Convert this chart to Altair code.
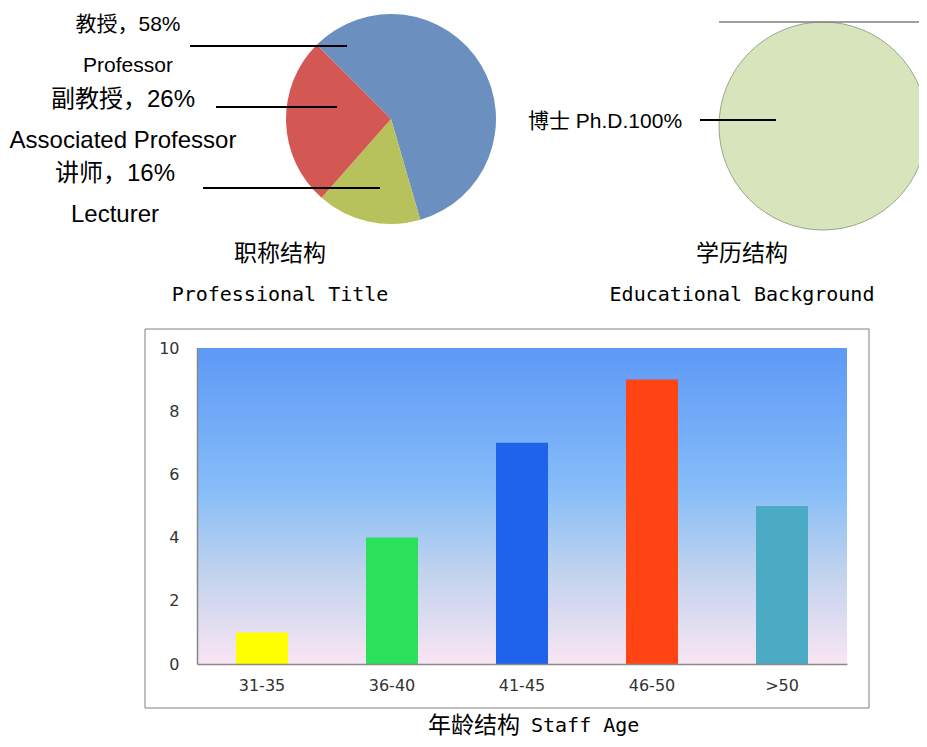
import altair as alt
import pandas as pd

# ---- data ----
title_cats = ["教授", "讲师", "副教授"]
title_pcts = [58, 16, 26]
title_colors = ["#6B8FBF", "#B7C25C", "#D35752"]

edu_cats = ["博士"]
edu_pcts = [100]
edu_colors = ["#D8E4BC"]

age_groups = ["31-35", "36-40", "41-45", "46-50", ">50"]
age_counts = [1, 4, 7, 9, 5]
age_colors = ["#FFFF00", "#2BE05A", "#1F63EB", "#FF4513", "#4BAAC4"]
y_ticks = [0, 2, 4, 6, 8, 10]

W, H = 911, 731
CJK = "Liberation Sans, Noto Sans CJK SC"
MONO = "DejaVu Sans Mono"

one = pd.DataFrame({"k": [0]})

def txt(s, x, y, size, font=CJK, align="center", weight="normal", color="#000"):
    return alt.Chart(one).mark_text(
        text=s, fontSize=size, font=font, align=align, baseline="middle",
        fontWeight=weight, color=color
    ).encode(x=alt.value(x), y=alt.value(y))

def hline(x1, x2, y, color="#000", w=2):
    return alt.Chart(one).mark_rule(color=color, strokeWidth=w).encode(
        x=alt.value(x1), x2=alt.value(x2), y=alt.value(y))

# ---- pie 1 : professional title ----
df1 = pd.DataFrame({"cat": title_cats, "pct": title_pcts, "col": title_colors,
                    "ord": list(range(len(title_cats)))})
pie1 = alt.Chart(df1).mark_arc(radius=105).encode(
    theta=alt.Theta("pct:Q", stack=True,
                    scale=alt.Scale(range=[5.4978, 5.4978 + 6.28319])),
    order=alt.Order("ord:Q"),
    color=alt.Color("col:N", scale=None),
    x=alt.value(383), y=alt.value(111),
)

# ---- pie 2 : educational background ----
df2 = pd.DataFrame({"cat": edu_cats, "pct": edu_pcts, "col": edu_colors})
pie2 = alt.Chart(df2).mark_arc(radius=104, stroke="#9AA58A", strokeWidth=1).encode(
    theta=alt.Theta("pct:Q", stack=True),
    color=alt.Color("col:N", scale=None),
    x=alt.value(815), y=alt.value(118),
)

# ---- bar chart : staff age ----
df3 = pd.DataFrame({"age": age_groups, "n": age_counts, "col": age_colors})
box = alt.Chart(one).mark_rect(fill="white", stroke="#808080", strokeWidth=1).encode(
    x=alt.value(137), x2=alt.value(861), y=alt.value(321), y2=alt.value(700))
grad = alt.Chart(one).mark_rect(
    fill=alt.Gradient(
        gradient="linear", x1=0, x2=0, y1=0, y2=1,
        stops=[alt.GradientStop(offset=0, color="#5D99F6"),
               alt.GradientStop(offset=0.45, color="#86BDF8"),
               alt.GradientStop(offset=0.7, color="#BFD2EE"),
               alt.GradientStop(offset=1, color="#F9E5F3")])
).encode(x=alt.value(189), x2=alt.value(839), y=alt.value(340), y2=alt.value(656))

bars = alt.Chart(df3).mark_bar().encode(
    x=alt.X("age:N", sort=age_groups,
            scale=alt.Scale(range=[189, 839], paddingInner=0.6, paddingOuter=0.3),
            axis=alt.Axis(title=None, offset=-75, zindex=1, labelAngle=0, ticks=False,
                          domainColor="#888888", domainWidth=1.5,
                          labelFont="DejaVu Sans", labelFontSize=16,
                          labelColor="#333333", labelPadding=13)),
    y=alt.Y("n:Q", scale=alt.Scale(domain=[0, 10], range=[656, 340]),
            axis=alt.Axis(title=None, offset=-189, zindex=1, values=y_ticks,
                          grid=False, ticks=False, domainColor="#888888",
                          domainWidth=1.5, labelFont="DejaVu Sans",
                          labelFontSize=16, labelColor="#333333",
                          labelPadding=18)),
    color=alt.Color("col:N", scale=None),
)

layers = [
    pie1, pie2,
    # pie 1 labels
    txt("教授，58%", 120, 17, 21),
    txt("Professor", 120, 58, 21),
    txt("副教授，26%", 115, 92, 24),
    txt("Associated Professor", 115, 133, 24),
    txt("讲师，16%", 107, 166, 24),
    txt("Lecturer", 107, 207, 24),
    hline(182, 339, 38), hline(208, 329, 99), hline(195, 372, 180),
    txt("职称结构", 272, 246, 23, font="Noto Sans CJK SC"),
    txt("Professional Title", 272, 287, 20, font=MONO),
    # pie 2 labels
    hline(711, 919, 14, color="#7F7F7F", w=1.5),
    txt("博士 Ph.D.100%", 520, 114, 21, align="left"),
    hline(692, 768, 112),
    txt("学历结构", 734, 246, 23, font="Noto Sans CJK SC"),
    txt("Educational Background", 734, 287, 20, font=MONO),
    # bar chart
    box, grad, bars,
    txt("年龄结构", 420, 718, 23, font="Noto Sans CJK SC", align="left"),
    txt("Staff Age", 523, 718, 20, font=MONO, align="left"),
]

chart = alt.layer(*layers).resolve_scale(theta="independent").properties(
    width=W, height=H, autosize="none", padding=0
).configure_view(stroke=None)

chart.save("out.html", embed_options={"renderer": "svg", "actions": False})
